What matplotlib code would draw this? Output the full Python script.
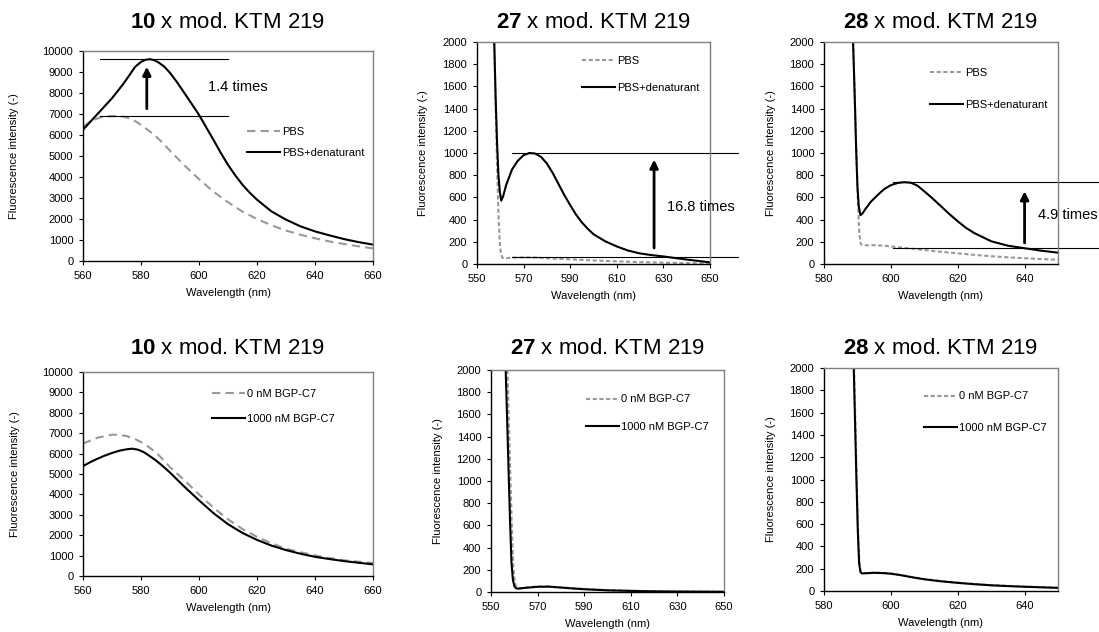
import numpy as np
import matplotlib
matplotlib.use("Agg")
import matplotlib.pyplot as plt

plt.rcParams['font.family'] = ['Liberation Sans', 'DejaVu Sans']
plt.rcParams['mathtext.fontset'] = 'custom'
plt.rcParams['mathtext.rm'] = 'Liberation Sans'
plt.rcParams['mathtext.bf'] = 'Liberation Sans:bold'

GRAY = '#999999'

# ---- 10 x mod. KTM 219, PBS vs PBS+denaturant
wl_10_pbs = [560, 563, 566, 568, 570, 572, 574, 576, 578, 580, 582.5, 585, 587.5, 590, 595,
             600, 605, 610, 615, 620, 625, 630, 635, 640, 645, 650, 655, 660]
int_10_pbs = [6400, 6680, 6840, 6890, 6900, 6900, 6870, 6790, 6660, 6480, 6230, 5950, 5620,
              5250, 4550, 3900, 3300, 2800, 2350, 2000, 1700, 1450, 1250, 1080, 930, 810,
              700, 600]
wl_10_den = [560, 562, 564, 566, 568, 570, 572, 574, 576, 578, 580, 581.5, 583, 584.5, 586,
             588, 590, 592.5, 595, 597.5, 600, 602.5, 605, 607.5, 610, 612.5, 615, 617.5,
             620, 625, 630, 635, 640, 645, 650, 655, 660]
int_10_den = [6250, 6550, 6850, 7150, 7450, 7750, 8100, 8450, 8850, 9250, 9480, 9580, 9610,
              9570, 9460, 9260, 8960, 8500, 7990, 7480, 6960, 6360, 5770, 5150, 4580, 4080,
              3630, 3250, 2920, 2360, 1970, 1650, 1410, 1220, 1045, 900, 780]

# ---- 27 x mod. KTM 219, PBS vs PBS+denaturant
wl_27_pbs = [557.4, 558.0, 558.6, 559.2, 559.8, 560.4, 561.0, 562, 565, 570, 575, 580, 590,
             600, 610, 620, 630, 640, 650]
int_27_pbs = [2000, 1400, 900, 450, 180, 80, 55, 50, 58, 60, 58, 52, 42, 32, 24, 17, 12, 8, 5]
wl_27_den = [557.4, 558.0, 558.6, 559.2, 559.8, 560.4, 561.2, 562.5, 565, 567.5, 570, 572.5,
             575, 577.5, 580, 582.5, 585, 587.5, 590, 592.5, 595, 597.5, 600, 605, 610, 615,
             620, 625, 630, 640, 650]
int_27_den = [2000, 1500, 1100, 800, 650, 570, 610, 710, 850, 930, 980, 1000, 995, 965, 905,
              820, 720, 620, 530, 445, 375, 318, 268, 205, 158, 120, 95, 80, 68, 40, 15]

# ---- 28 x mod. KTM 219, PBS vs PBS+denaturant
wl_28_pbs = [588.7, 589.3, 589.8, 590.2, 590.6, 591.0, 591.5, 595, 598, 600, 605, 610, 615,
             620, 625, 630, 635, 640, 645, 650]
int_28_pbs = [2000, 1400, 900, 500, 260, 180, 168, 170, 165, 158, 142, 126, 110, 96, 82, 70,
              60, 52, 45, 38]
wl_28_den = [588.7, 589.2, 589.6, 590.0, 590.4, 590.9, 591.5, 592.5, 594, 596, 598, 600, 602,
             604, 606, 608, 610, 612.5, 615, 617.5, 620, 622.5, 625, 630, 635, 640, 645, 650]
int_28_den = [2000, 1500, 1050, 700, 520, 440, 455, 500, 560, 620, 675, 710, 730, 737, 732,
              705, 655, 590, 520, 450, 385, 325, 278, 205, 165, 142, 120, 102]

# ---- 10 x mod. KTM 219, 0 vs 1000 nM BGP-C7
wl_10_bgp0 = [560, 565, 570, 572.5, 575, 577.5, 580, 582.5, 585, 587.5, 590, 595, 600, 605,
              610, 615, 620, 625, 630, 635, 640, 645, 650, 655, 660]
int_10_bgp0 = [6490, 6780, 6930, 6920, 6860, 6740, 6570, 6340, 6080, 5720, 5340, 4690, 4000,
               3350, 2780, 2300, 1920, 1600, 1340, 1160, 1010, 880, 770, 700, 640]
wl_10_bgp1000 = [560, 562.5, 565, 567.5, 570, 572.5, 575, 577, 579, 581, 583, 585, 587.5, 590,
                 592.5, 595, 597.5, 600, 605, 610, 615, 620, 625, 630, 635, 640, 645, 650,
                 655, 660]
int_10_bgp1000 = [5390, 5580, 5750, 5900, 6030, 6140, 6210, 6240, 6190, 6070, 5880, 5680, 5390,
                  5070, 4720, 4370, 4040, 3710, 3080, 2540, 2110, 1770, 1490, 1270, 1090, 940,
                  830, 730, 650, 570]

# ---- 27 x mod. KTM 219, 0 vs 1000 nM BGP-C7
wl_27_bgp0 = [557.1, 557.7, 558.3, 558.9, 559.5, 560.1, 560.7, 561.3, 562, 565, 570, 575, 580,
              585, 590, 600, 610, 620, 630, 640, 650]
int_27_bgp0 = [2000, 1500, 1050, 620, 260, 110, 55, 38, 32, 40, 50, 50, 42, 34, 27, 17, 11, 7,
               5, 4, 3]
wl_27_bgp1000 = [556.3, 557.0, 557.6, 558.2, 558.8, 559.4, 560.0, 560.6, 561.5, 565, 570, 575,
                 580, 585, 590, 600, 610, 620, 630, 640, 650]
int_27_bgp1000 = [2000, 1500, 1050, 620, 260, 110, 55, 35, 30, 38, 47, 48, 40, 32, 25, 15, 10,
                  6, 4, 3, 2]

# ---- 28 x mod. KTM 219, 0 vs 1000 nM BGP-C7
wl_28_bgp0 = [589.0, 589.4, 589.8, 590.2, 590.6, 591.0, 591.5, 593, 595, 598, 600, 603, 606,
              610, 615, 620, 625, 630, 635, 640, 645, 650]
int_28_bgp0 = [2000, 1500, 1000, 550, 250, 172, 160, 162, 165, 162, 157, 144, 127, 107, 89, 75,
               63, 53, 46, 40, 35, 30]
wl_28_bgp1000 = [588.9, 589.3, 589.7, 590.1, 590.5, 590.9, 591.4, 593, 595, 598, 600, 603, 606,
                 610, 615, 620, 625, 630, 635, 640, 645, 650]
int_28_bgp1000 = [2000, 1500, 1000, 550, 250, 170, 157, 160, 163, 160, 155, 142, 125, 105, 87,
                  73, 61, 51, 44, 38, 33, 28]

# axes boxes in pixels: left, right, top, bottom
W, H = 1099, 632
boxes = [(83, 373, 51, 261), (477, 710, 42, 264), (824, 1058, 42, 264),
         (83, 373, 372, 576), (491, 724, 370, 592), (824, 1058, 368, 591)]
title_y = [22, 22, 22, 348, 349, 349]
title_num = ['10', '27', '28', '10', '27', '28']

fig = plt.figure(figsize=(W / 100, H / 100), dpi=100)
axes = []
for (l, r, t, b) in boxes:
    ax = fig.add_axes([l / W, 1 - b / H, (r - l) / W, (b - t) / H])
    axes.append(ax)


def style(ax, xlim, xticks, ylim, yticks, ylab_x):
    ax.set_xlim(*xlim)
    ax.set_ylim(*ylim)
    ax.set_xticks(xticks)
    ax.set_yticks(yticks)
    ax.tick_params(direction='out', length=3, width=0.8, pad=4, labelsize=8,
                   colors='black')
    for side in ['left', 'bottom']:
        ax.spines[side].set_color('black')
        ax.spines[side].set_linewidth(1)
    for side in ['top', 'right']:
        ax.spines[side].set_color('#808080')
        ax.spines[side].set_linewidth(1)
    ax.set_xlabel('Wavelength (nm)', fontsize=8, labelpad=5)
    ax.set_ylabel('Fluorescence intensity (-)', fontsize=8)
    ax.yaxis.set_label_coords(ylab_x, 0.5)


long_dash = (4, 2.5)
short_dash = (2, 1.2)
series = [
    (wl_10_pbs, int_10_pbs, wl_10_den, int_10_den, 'PBS', 'PBS+denaturant', long_dash),
    (wl_27_pbs, int_27_pbs, wl_27_den, int_27_den, 'PBS', 'PBS+denaturant', short_dash),
    (wl_28_pbs, int_28_pbs, wl_28_den, int_28_den, 'PBS', 'PBS+denaturant', short_dash),
    (wl_10_bgp0, int_10_bgp0, wl_10_bgp1000, int_10_bgp1000, '0 nM BGP-C7', '1000 nM BGP-C7', long_dash),
    (wl_27_bgp0, int_27_bgp0, wl_27_bgp1000, int_27_bgp1000, '0 nM BGP-C7', '1000 nM BGP-C7', short_dash),
    (wl_28_bgp0, int_28_bgp0, wl_28_bgp1000, int_28_bgp1000, '0 nM BGP-C7', '1000 nM BGP-C7', short_dash),
]
legend_anchor = [(0.566, 0.638), (0.451, 0.939), (0.453, 0.885),
                 (0.445, 0.919), (0.408, 0.890), (0.427, 0.895)]
legend_spacing = [1.0, 1.6, 2.0, 1.35, 1.55, 1.9]
ylab_x = [-0.221, -0.212, -0.203, -0.216, -0.208, -0.203]

for i, ax in enumerate(axes):
    x0, y0, x1, y1, lab0, lab1, dash = series[i]
    ax.plot(x0, y0, color=GRAY, lw=1.5, dashes=dash, label=lab0)
    ax.plot(x1, y1, color='black', lw=1.5, label=lab1)
    ax.legend(loc='upper left', bbox_to_anchor=legend_anchor[i], frameon=False,
              fontsize=8, borderpad=0, borderaxespad=0, handlelength=3.0,
              handletextpad=0.15, labelspacing=legend_spacing[i])
    if i % 3 == 0:
        style(ax, (560, 660), np.arange(560, 661, 20), (0, 10000),
              np.arange(0, 10001, 1000), ylab_x[i])
    elif i % 3 == 1:
        style(ax, (550, 650), np.arange(550, 651, 20), (0, 2000),
              np.arange(0, 2001, 200), ylab_x[i])
    else:
        style(ax, (580, 650), np.arange(580, 641, 20), (0, 2000),
              np.arange(0, 2001, 200), ylab_x[i])
    pos = ax.get_position()
    fig.text((pos.x0 + pos.x1) / 2, 1 - title_y[i] / H,
             r'$\mathbf{' + title_num[i] + r'}$ x mod. KTM 219',
             ha='center', va='center', fontsize=16)

# fold-change markers on the denaturant panels
ref_lines = [
    (axes[0], (566, 610), 9620, 6900, 582, 7250, 9250, '1.4 times', 603, 8290),
    (axes[1], (565, 662), 1000, 63, 626, 144, 940, '16.8 times', 631.5, 513),
    (axes[2], (600.6, 662), 739, 144, 640, 190, 655, '4.9 times', 644, 441),
]
for ax, (xa, xb), hi, lo, xarr, ya, yb, txt, tx, ty in ref_lines:
    ax.plot([xa, xb], [hi, hi], color='black', lw=0.8, clip_on=False)
    ax.plot([xa, xb], [lo, lo], color='black', lw=0.8, clip_on=False)
    ax.annotate('', xy=(xarr, yb), xytext=(xarr, ya),
                arrowprops=dict(arrowstyle='-|>', lw=2, color='black',
                                mutation_scale=12, shrinkA=0, shrinkB=0))
    ax.text(tx, ty, txt, fontsize=10.5, ha='left', va='center', clip_on=False)

fig.savefig('out.png', dpi=100)
